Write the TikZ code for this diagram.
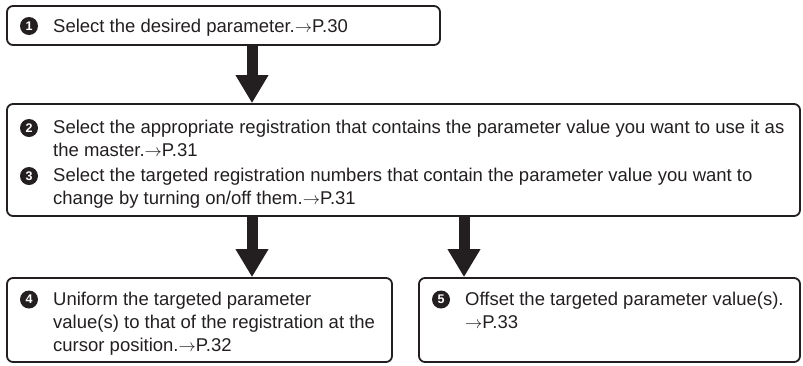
\documentclass[tikz,border=0pt]{standalone}
\usepackage{fontspec}
\setmainfont{Liberation Sans}
\usetikzlibrary{arrows.meta}
\definecolor{ink}{HTML}{231F20}
\begin{document}
\begin{tikzpicture}[x=1pt,y=-1pt,
  box/.style={draw=ink, line width=1.8pt, rounded corners=6pt, inner sep=0pt},
  txt/.style={anchor=base west, inner sep=0pt, text=ink, font=\fontsize{18.5}{23}\selectfont},
  num/.style={circle, fill=ink, text=white, inner sep=0pt, minimum size=18pt, font=\fontsize{12.5}{12.5}\selectfont\bfseries},
  fat/.style={draw=ink, line width=11pt, -{Triangle[width=31pt,length=28pt]}, fill=ink}]
\useasboundingbox (0,0) rectangle (803,365);
% boxes
\node[box, minimum width=433pt, minimum height=39pt] (b1) at (223.5,25.5) {};
\node[box, minimum width=793pt, minimum height=112pt] (b2) at (403.5,160) {};
\node[box, minimum width=385pt, minimum height=84pt] (b4) at (199.5,320) {};
\node[box, minimum width=381pt, minimum height=84pt] (b5) at (609.5,320) {};
% box 1
\node[num] (n1) at (29,26) {1};
\node[txt] (t1) at (53,32) {Select the desired parameter.$\rightarrow$P.30};
% box 2
\node[num] (n2) at (29,128) {2};
\node[txt] (t2a) at (53,133) {Select the appropriate registration that contains the parameter value you want to use it as};
\node[txt] (t2b) at (53,156) {the master.$\rightarrow$P.31};
\node[num] (n3) at (29,176) {3};
\node[txt] (t3a) at (53,181) {Select the targeted registration numbers that contain the parameter value you want to};
\node[txt] (t3b) at (53,204) {change by turning on/off them.$\rightarrow$P.31};
% box 4
\node[num] (n4) at (29,299.5) {4};
\node[txt] (t4a) at (53,305) {Uniform the targeted parameter};
\node[txt] (t4b) at (53,328) {value(s) to that of the registration at the};
\node[txt] (t4c) at (53,351) {cursor position.$\rightarrow$P.32};
% box 5
\node[num] (n5) at (441,299.5) {5};
\node[txt] (t5a) at (465,305) {Offset the targeted parameter value(s).};
\node[txt] (t5b) at (465,328) {$\rightarrow$P.33};
% arrows
\coordinate (ax1) at (252,0);
\coordinate (ax3) at (464,0);
\draw[fat] (ax1 |- b1.south) -- (ax1 |- b2.north);
\draw[fat] (ax1 |- b2.south) -- (ax1 |- b4.north);
\draw[fat] (ax3 |- b2.south) -- (ax3 |- b5.north);
\end{tikzpicture}
\end{document}
